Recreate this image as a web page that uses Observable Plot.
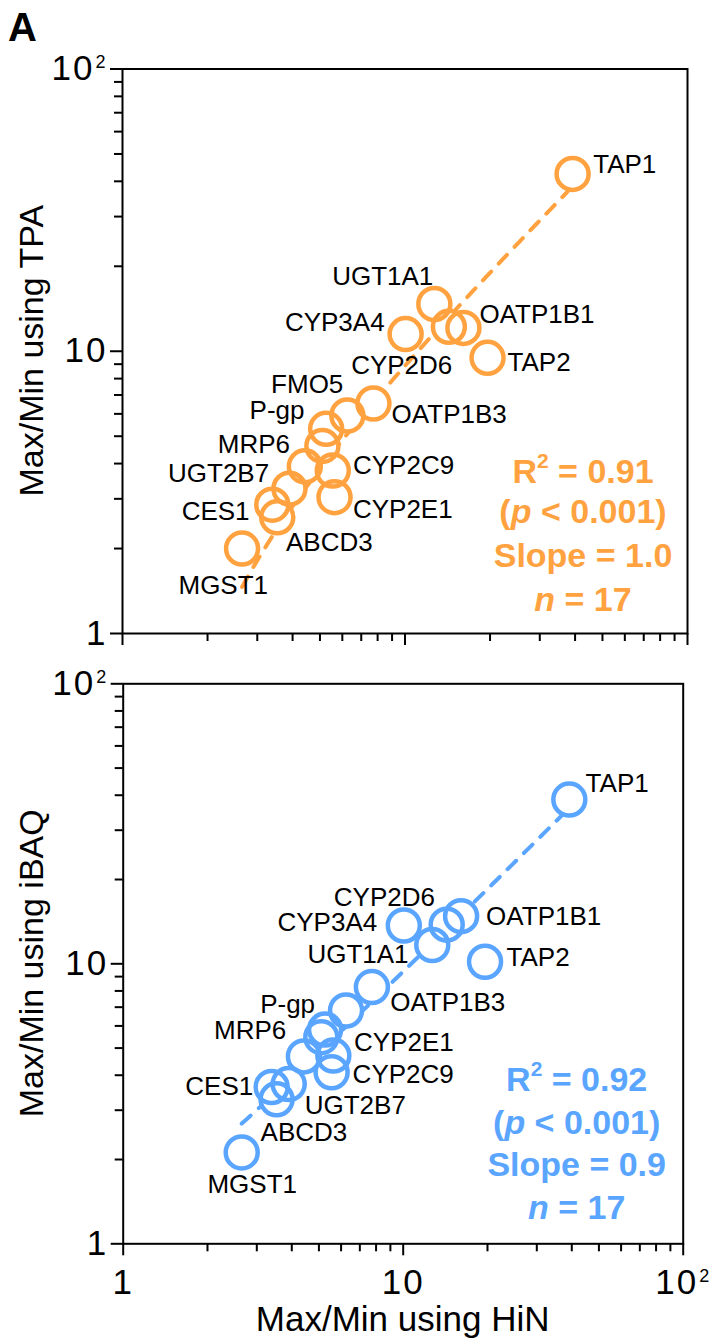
<!DOCTYPE html>
<html><head><meta charset="utf-8">
<script src="https://cdn.jsdelivr.net/npm/d3@7"></script>
<script src="https://cdn.jsdelivr.net/npm/@observablehq/plot@0.6"></script>
<style>
body{margin:0;background:#fff;}
#chart{width:716px;height:1340px;}
#chart svg{display:block;}
</style></head><body><div id="chart"></div>
<script>
// ---- data ----
const proteins = ["TAP1","TAP2","OATP1B1","CYP2D6","UGT1A1","CYP3A4","OATP1B3","FMO5","CYP2E1","CYP2C9","P-gp","MRP6","unlabelled","UGT2B7","ABCD3","CES1","MGST1"];
const hinRatio  = [39.2,19.6,16.1,14.3,12.7,10.05,7.73,6.25,5.63,5.55,5.26,5.10,4.42,3.9,3.53,3.39,2.65];
const tpaRatio  = [42.5,9.48,12.1,12.2,14.7,11.5,6.53,5.92,3.04,3.78,5.31,4.62,3.91,3.26,2.58,2.86,2.0];
const ibaqRatio = [38.6,10.17,14.8,13.8,11.67,13.7,8.26,6.81,4.70,4.10,5.82,5.47,4.67,3.72,3.28,3.63,2.12];
const majorTicks = [1, 10, 100];
const minorTicks = [2,3,4,5,6,7,8,9,20,30,40,50,60,70,80,90];
const tickLabels = ["1", "10", "10\u00B2"];
const statsTPA  = {r2: "0.91", p: "0.001", slope: "1.0", n: "17"};
const statsIBAQ = {r2: "0.92", p: "0.001", slope: "0.9", n: "17"};

// ---- layout (label placement, px offsets from each point) ----
const labelsTop = {
  "TAP1":[20.6,-8.8,"start"], "UGT1A1":[-1,-27.3,"end"], "CYP3A4":[-21,-11.3,"end"],
  "OATP1B1":[16,-12.8,"start"], "TAP2":[20,5.2,"start"], "CYP2D6":[3.4,38.3,"end"],
  "FMO5":[-4,-30.5,"end"], "P-gp":[-21.7,-18,"end"], "OATP1B3":[18.2,11,"start"],
  "MRP6":[-32.4,-1.5,"end"], "UGT2B7":[-20.3,-14.6,"end"], "CYP2C9":[20.2,-4.5,"start"],
  "CES1":[-22.7,7,"end"], "CYP2E1":[18.4,12.3,"start"], "ABCD3":[8.7,25.3,"start"],
  "MGST1":[-18.8,36.7,"middle"]
};
const labelsBottom = {
  "TAP1":[16.3,-16,"start"], "CYP2D6":[-11.7,-26.5,"end"], "CYP3A4":[-26.6,-2.8,"end"],
  "OATP1B1":[25,0.8,"start"], "UGT1A1":[-23.7,9.5,"end"], "TAP2":[21.5,-3.7,"start"],
  "OATP1B3":[18.3,16,"start"], "P-gp":[-10,-25,"end"], "MRP6":[-35,-6,"end"],
  "CYP2E1":[20.7,-12.5,"start"], "CYP2C9":[21,2.3,"start"], "CES1":[-18.4,0,"end"],
  "UGT2B7":[16,22,"start"], "ABCD3":[-16,33,"start"], "MGST1":[10.5,32.5,"middle"]
};

const FONT = "'Liberation Sans', Arial, Helvetica, sans-serif";
const ORANGE = "#FFA23F";
const BLUE = "#5AA5FF";

function fitLine(xs, ys) {
  const mx = d3.mean(xs), my = d3.mean(ys);
  let sxy = 0, sxx = 0;
  xs.forEach((x, i) => { sxy += (x - mx) * (ys[i] - my); sxx += (x - mx) ** 2; });
  const b = sxy / sxx, a = my - b * mx;
  const [x0, x1] = d3.extent(xs);
  const N = 80;
  return d3.range(N + 1).map(i => {
    const x = Math.exp(Math.log(x0) + (i / N) * (Math.log(x1) - Math.log(x0)));
    return {x, y: a + b * x};
  });
}

function panel(opts) {
  const {yValues, color, layout, showXLabels, height, margin} = opts;
  const data = proteins.map((name, i) => ({name, x: hinRatio[i], y: yValues[i]}));
  const fit = fitLine(hinRatio, yValues);
  const ticksData = majorTicks.map((v, i) => ({v, label: tickLabels[i]}));
  const labelMarks = data.filter(d => layout[d.name]).map(d => {
    const [dx, dy, anchor] = layout[d.name];
    return Plot.text([d], {x: "x", y: "y", text: "name", dx, dy, textAnchor: anchor,
      fontSize: 26, fill: "black", fontFamily: FONT});
  });
  return Plot.plot({
    width: 716, height,
    marginTop: margin.top, marginBottom: margin.bottom, marginLeft: margin.left, marginRight: margin.right,
    style: {fontFamily: FONT, background: "white", color: "black", overflow: "visible"},
    x: {type: "log", domain: [1, 100], axis: null},
    y: {type: "log", domain: [1, 100], axis: null},
    marks: [
      Plot.line(fit, {x: "x", y: "y", stroke: color, strokeWidth: 4, strokeDasharray: "12,11"}),
      Plot.dot(data, {x: "x", y: "y", r: 16, fill: "white", stroke: "none"}),
      Plot.dot(data, {x: "x", y: "y", r: 16, fill: "none", stroke: color, strokeWidth: 4.5}),
      ...labelMarks,
      Plot.axisY({ticks: majorTicks, tickSize: 12, tickFormat: () => "", strokeWidth: 2, label: null}),
      Plot.axisY({ticks: minorTicks, tickSize: 8, tickFormat: () => "", strokeWidth: 2, label: null}),
      Plot.axisX({ticks: majorTicks, tickSize: 12, tickFormat: () => "", strokeWidth: 2, label: null}),
      Plot.axisX({ticks: minorTicks, tickSize: 8, tickFormat: () => "", strokeWidth: 2, label: null}),
      Plot.text(ticksData, {x: () => 1, y: "v", text: "label", dx: -15, textAnchor: "end",
        fontSize: 35, fill: "black", fontFamily: FONT}),
      ...(showXLabels ? [Plot.text(ticksData, {x: "v", y: () => 1, text: "label", dy: 39, textAnchor: "middle",
        fontSize: 35, fill: "black", fontFamily: FONT})] : []),
      Plot.frame({strokeWidth: 2, stroke: "black"})
    ]
  });
}

function addStats(svg, cx, baselines, color, st) {
  const g = svg.append("g").attr("fill", color).attr("font-family", FONT)
    .attr("font-weight", 700).attr("font-size", 34).attr("text-anchor", "middle");
  const t1 = g.append("text").attr("x", cx).attr("y", baselines[0]);
  t1.append("tspan").text("R");
  t1.append("tspan").attr("font-size", 21).attr("dy", -15).text("2");
  t1.append("tspan").attr("dy", 15).text(" = " + st.r2);
  const t2 = g.append("text").attr("x", cx).attr("y", baselines[1]);
  t2.append("tspan").text("(");
  t2.append("tspan").attr("font-style", "italic").text("p");
  t2.append("tspan").text(" < " + st.p + ")");
  g.append("text").attr("x", cx).attr("y", baselines[2]).text("Slope = " + st.slope);
  const t4 = g.append("text").attr("x", cx).attr("y", baselines[3]);
  t4.append("tspan").attr("font-style", "italic").text("n");
  t4.append("tspan").text(" = " + st.n);
}

function addYTitle(svg, x, y, text) {
  svg.append("text").attr("transform", `translate(${x},${y}) rotate(-90)`)
    .attr("text-anchor", "middle").attr("font-family", FONT).attr("font-size", 34)
    .attr("fill", "black").text(text);
}

// tick labels: wider digit spacing, and a true superscript exponent for 10^2
function styleTickLabels(svg) {
  svg.selectAll("text").filter(function () { return tickLabels.includes(this.textContent); })
    .attr("letter-spacing", "2px")
    .each(function () {
      if (this.textContent === tickLabels[2]) {
        const t = d3.select(this);
        t.text(null);
        t.append("tspan").text("10");
        t.append("tspan").attr("font-size", 18).attr("dx", 1).attr("dy", -12).text("2");
      }
    });
}

const chartEl = document.getElementById("chart");

// Top panel
const topPlot = panel({yValues: tpaRatio, color: ORANGE, layout: labelsTop, showXLabels: false,
  height: 660, margin: {top: 68.5, bottom: 27, left: 122, right: 29}});
chartEl.appendChild(topPlot);
const sTop = d3.select(topPlot);
styleTickLabels(sTop);
sTop.append("text").attr("x", 8).attr("y", 41).attr("text-anchor", "start").attr("font-family", FONT)
  .attr("font-weight", 700).attr("font-size", 40).attr("fill", "black").text("A");
addYTitle(sTop, 43, 350.7, "Max/Min using TPA");
addStats(sTop, 583, [482.7, 523.3, 567, 611], ORANGE, statsTPA);

// Bottom panel
const botPlot = panel({yValues: ibaqRatio, color: BLUE, layout: labelsBottom, showXLabels: true,
  height: 680, margin: {top: 23.3, bottom: 96.7, left: 122.7, right: 33.3}});
chartEl.appendChild(botPlot);
const sBot = d3.select(botPlot);
styleTickLabels(sBot);
addYTitle(sBot, 43, 303.3, "Max/Min using iBAQ");
sBot.append("text").attr("x", 402.7).attr("y", 671).attr("text-anchor", "middle")
  .attr("font-family", FONT).attr("font-size", 35).attr("fill", "black").text("Max/Min using HiN");
addStats(sBot, 576.7, [431, 474, 515.5, 559], BLUE, statsIBAQ);
</script></body></html>
